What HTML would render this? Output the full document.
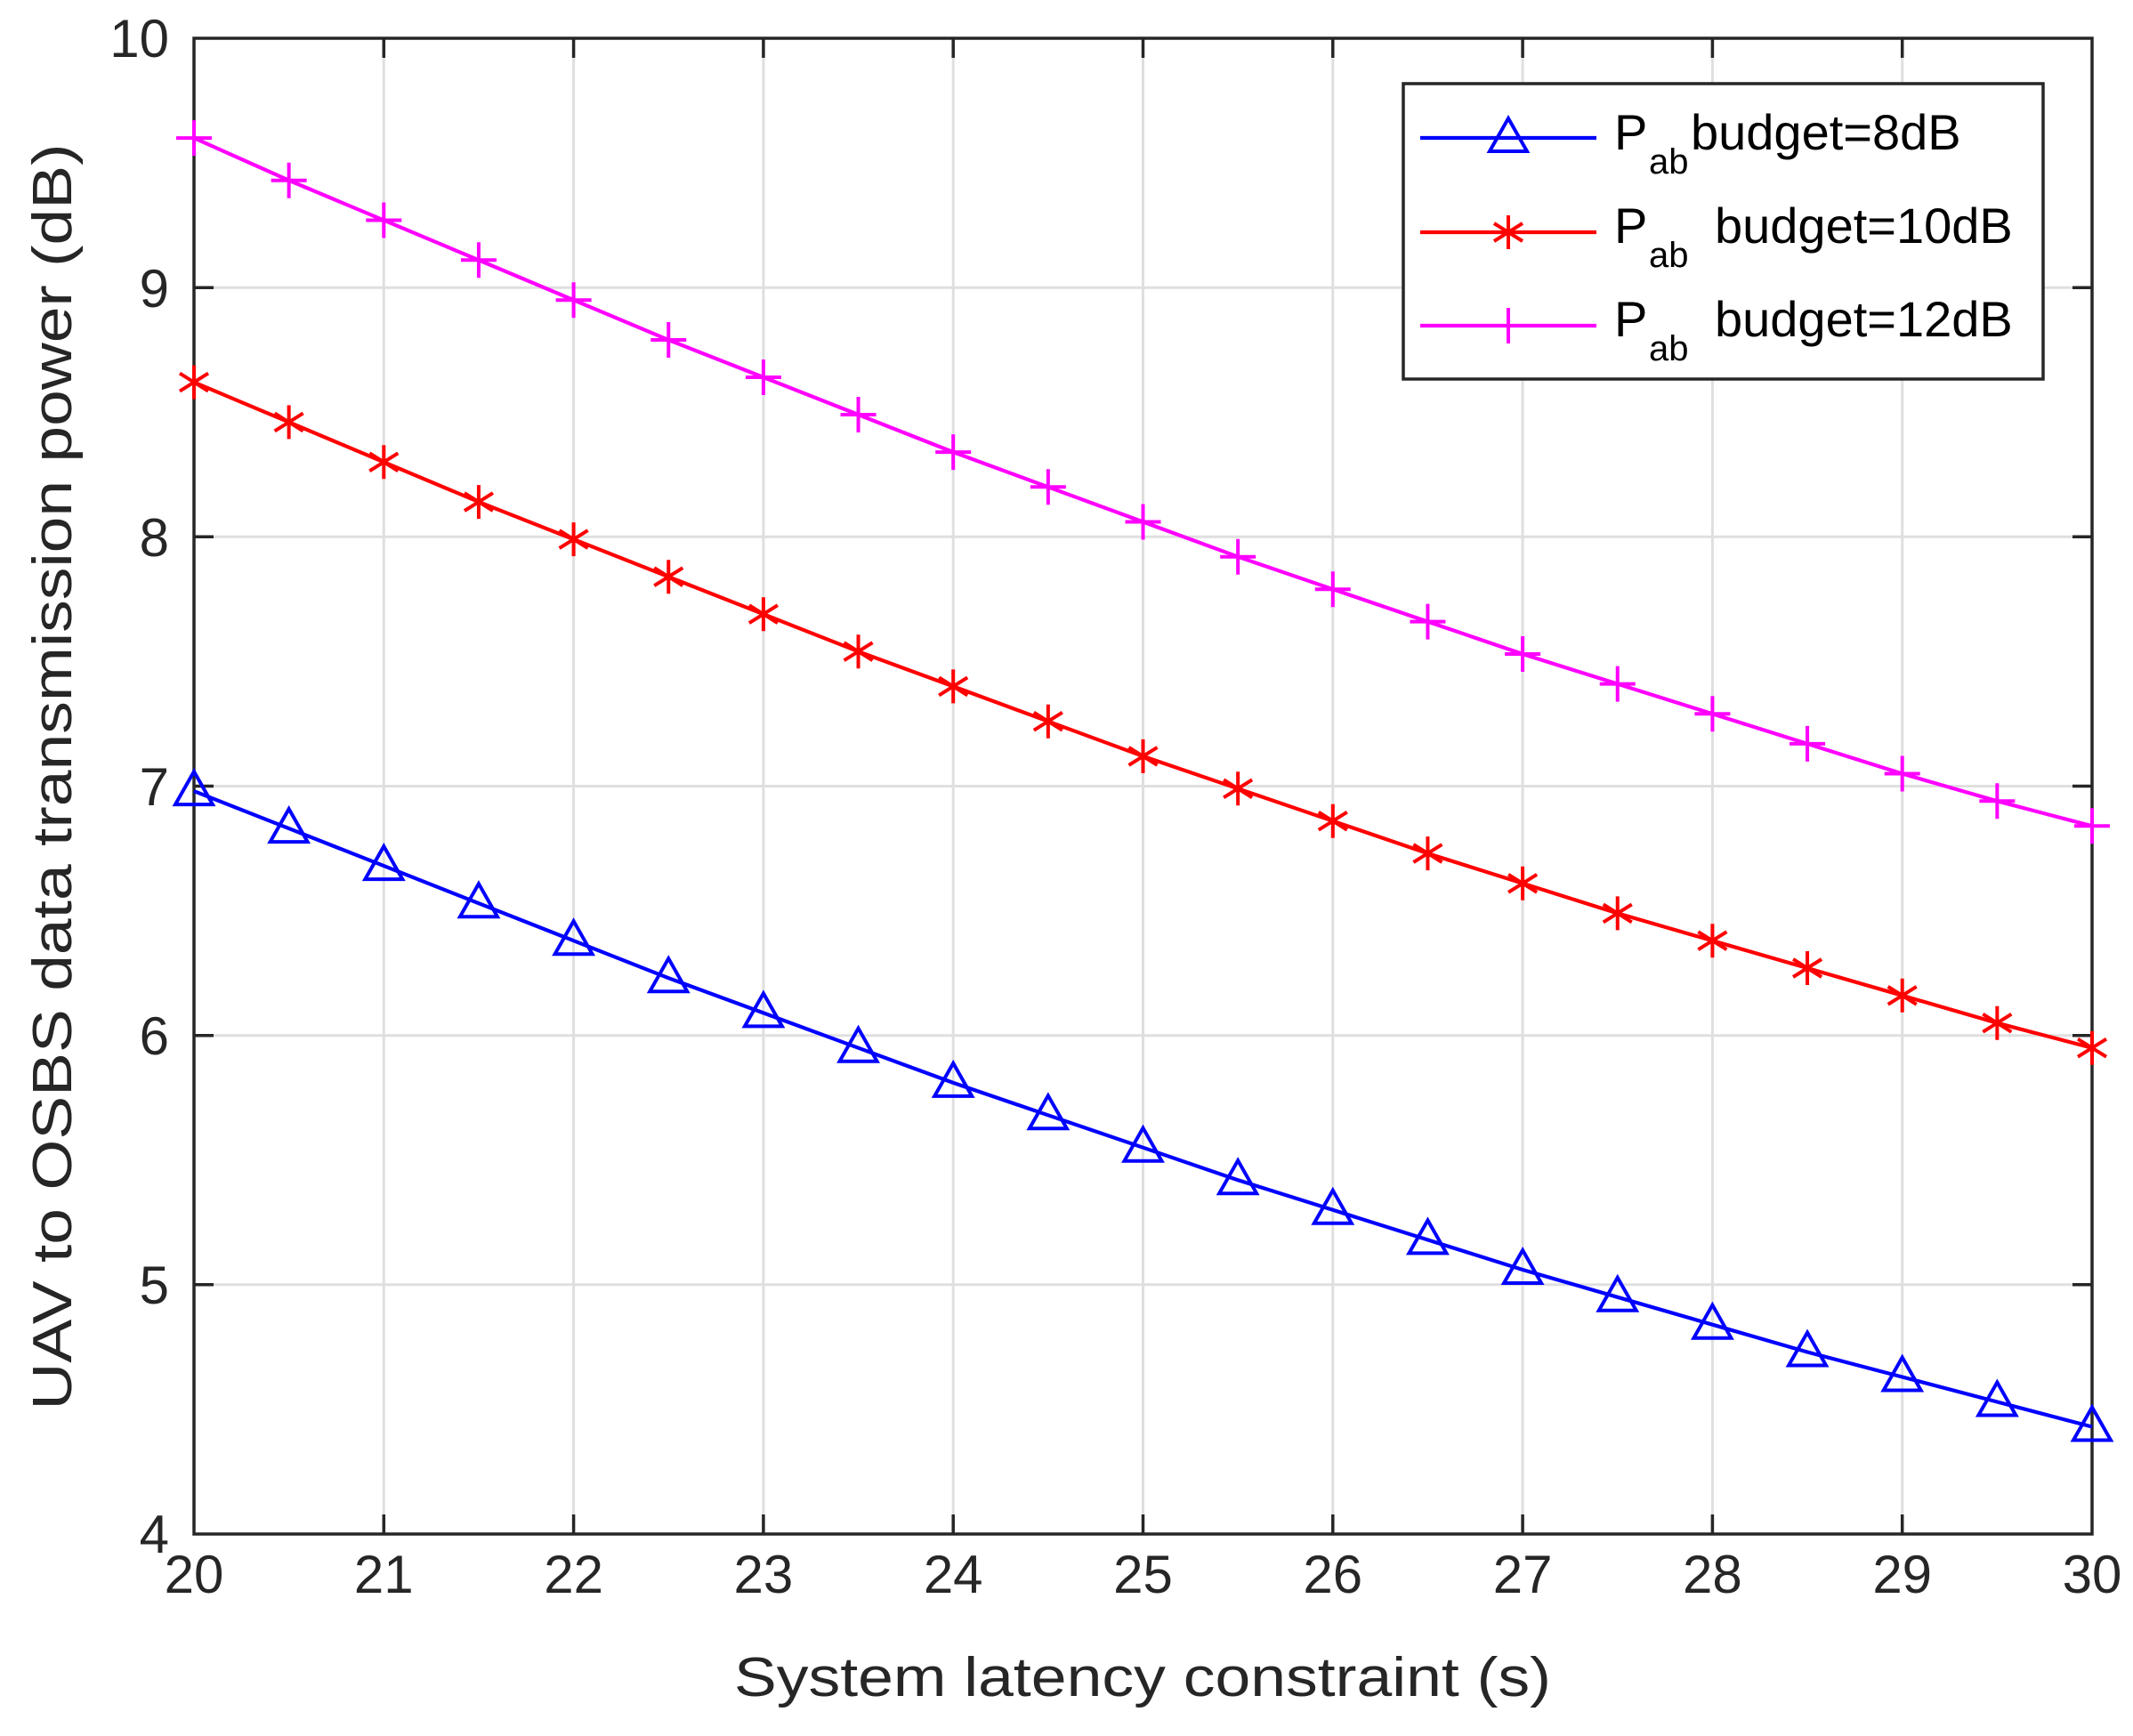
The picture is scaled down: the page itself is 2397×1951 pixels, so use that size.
<!DOCTYPE html>
<html><head><meta charset="utf-8"><style>
html,body{margin:0;padding:0;background:#fff;}
svg{display:block;font-family:"Liberation Sans",Arial,sans-serif;}
</style></head><body>
<svg width="2397" height="1951" viewBox="0 0 2397 1951" xmlns="http://www.w3.org/2000/svg">
<defs>
<g id="tri"><polygon points="0,-22 21,15 -21,15" fill="none" stroke="#0000ff" stroke-width="4"/></g>
<g id="star"><path d="M0,-19V19M-16,-10L16,10M-16,10L16,-10" stroke="#ff0000" stroke-width="4" fill="none"/></g>
<g id="plus"><path d="M0,-20V20M-20,0H20" stroke="#ff00ff" stroke-width="4" fill="none"/></g>
</defs>
<rect width="2397" height="1951" fill="#fff"/>
<g stroke="#dfdfdf" stroke-width="3">
<path d="M431.3,43V1724M644.6,43V1724M857.9,43V1724M1071.2,43V1724M1284.5,43V1724M1497.8,43V1724M1711.1,43V1724M1924.4,43V1724M2137.7,43V1724"/>
<path d="M218,1443.8H2351M218,1163.7H2351M218,883.5H2351M218,603.3H2351M218,323.2H2351"/>
</g>
<g stroke="#262626" stroke-width="3.5" fill="none">
<rect x="218" y="43" width="2133" height="1681"/>
<path d="M431.3,43v22M644.6,43v22M857.9,43v22M1071.2,43v22M1284.5,43v22M1497.8,43v22M1711.1,43v22M1924.4,43v22M2137.7,43v22"/>
<path d="M431.3,1724v-22M644.6,1724v-22M857.9,1724v-22M1071.2,1724v-22M1284.5,1724v-22M1497.8,1724v-22M1711.1,1724v-22M1924.4,1724v-22M2137.7,1724v-22"/>
<path d="M218,1443.8h22M218,1163.7h22M218,883.5h22M218,603.3h22M218,323.2h22"/>
<path d="M2351,1443.8h-22M2351,1163.7h-22M2351,883.5h-22M2351,603.3h-22M2351,323.2h-22"/>
</g>
<g fill="#262626" font-size="60" text-anchor="end">
<text x="190" y="1745">4</text><text x="190" y="1465">5</text><text x="190" y="1185">6</text>
<text x="190" y="905">7</text><text x="190" y="625">8</text><text x="190" y="345">9</text><text x="190" y="64">10</text>
</g>
<g fill="#262626" font-size="60" text-anchor="middle">
<text x="218" y="1790">20</text><text x="431.3" y="1790">21</text><text x="644.6" y="1790">22</text>
<text x="857.9" y="1790">23</text><text x="1071.2" y="1790">24</text><text x="1284.5" y="1790">25</text>
<text x="1497.8" y="1790">26</text><text x="1711.1" y="1790">27</text><text x="1924.4" y="1790">28</text>
<text x="2137.7" y="1790">29</text><text x="2351" y="1790">30</text>
<text x="1284" y="1906" font-size="62" textLength="918" lengthAdjust="spacingAndGlyphs">System latency constraint (s)</text>
<text transform="translate(80,873) rotate(-90)" font-size="62" textLength="1423" lengthAdjust="spacingAndGlyphs">UAV to OSBS data transmission power (dB)</text>
</g>
<polyline fill="none" stroke="#ff00ff" stroke-width="4.2" points="218,155.1 324.65,202.7 431.3,247.5 537.95,292.3 644.6,337.2 751.25,382 857.9,424 964.55,466 1071.2,508.1 1177.85,547.3 1284.5,586.5 1391.15,625.7 1497.8,662.2 1604.45,698.6 1711.1,735 1817.75,768.6 1924.4,802.2 2031.05,835.9 2137.7,869.5 2244.35,900.3 2351,928.3"/>
<polyline fill="none" stroke="#ff0000" stroke-width="4.2" points="218,429.6 324.65,474.4 431.3,519.3 537.95,564.1 644.6,606.1 751.25,648.2 857.9,690.2 964.55,732.2 1071.2,771.4 1177.85,810.7 1284.5,849.9 1391.15,886.3 1497.8,922.7 1604.45,959.1 1711.1,992.8 1817.75,1026.4 1924.4,1057.2 2031.05,1088 2137.7,1118.8 2244.35,1149.7 2351,1177.7"/>
<polyline fill="none" stroke="#0000ff" stroke-width="4.2" points="218,889.1 324.65,931.1 431.3,973.1 537.95,1015.2 644.6,1057.2 751.25,1099.2 857.9,1138.4 964.55,1177.7 1071.2,1216.9 1177.85,1253.3 1284.5,1289.7 1391.15,1326.2 1497.8,1359.8 1604.45,1393.4 1711.1,1427 1817.75,1457.8 1924.4,1488.7 2031.05,1519.5 2137.7,1547.5 2244.35,1575.5 2351,1603.5"/>
<g>
<use href="#plus" x="218" y="155.1"/><use href="#plus" x="324.65" y="202.7"/><use href="#plus" x="431.3" y="247.5"/><use href="#plus" x="537.95" y="292.3"/><use href="#plus" x="644.6" y="337.2"/><use href="#plus" x="751.25" y="382"/><use href="#plus" x="857.9" y="424"/><use href="#plus" x="964.55" y="466"/><use href="#plus" x="1071.2" y="508.1"/><use href="#plus" x="1177.85" y="547.3"/><use href="#plus" x="1284.5" y="586.5"/><use href="#plus" x="1391.15" y="625.7"/><use href="#plus" x="1497.8" y="662.2"/><use href="#plus" x="1604.45" y="698.6"/><use href="#plus" x="1711.1" y="735"/><use href="#plus" x="1817.75" y="768.6"/><use href="#plus" x="1924.4" y="802.2"/><use href="#plus" x="2031.05" y="835.9"/><use href="#plus" x="2137.7" y="869.5"/><use href="#plus" x="2244.35" y="900.3"/><use href="#plus" x="2351" y="928.3"/>
<use href="#star" x="218" y="429.6"/><use href="#star" x="324.65" y="474.4"/><use href="#star" x="431.3" y="519.3"/><use href="#star" x="537.95" y="564.1"/><use href="#star" x="644.6" y="606.1"/><use href="#star" x="751.25" y="648.2"/><use href="#star" x="857.9" y="690.2"/><use href="#star" x="964.55" y="732.2"/><use href="#star" x="1071.2" y="771.4"/><use href="#star" x="1177.85" y="810.7"/><use href="#star" x="1284.5" y="849.9"/><use href="#star" x="1391.15" y="886.3"/><use href="#star" x="1497.8" y="922.7"/><use href="#star" x="1604.45" y="959.1"/><use href="#star" x="1711.1" y="992.8"/><use href="#star" x="1817.75" y="1026.4"/><use href="#star" x="1924.4" y="1057.2"/><use href="#star" x="2031.05" y="1088"/><use href="#star" x="2137.7" y="1118.8"/><use href="#star" x="2244.35" y="1149.7"/><use href="#star" x="2351" y="1177.7"/>
<use href="#tri" x="218" y="889.1"/><use href="#tri" x="324.65" y="931.1"/><use href="#tri" x="431.3" y="973.1"/><use href="#tri" x="537.95" y="1015.2"/><use href="#tri" x="644.6" y="1057.2"/><use href="#tri" x="751.25" y="1099.2"/><use href="#tri" x="857.9" y="1138.4"/><use href="#tri" x="964.55" y="1177.7"/><use href="#tri" x="1071.2" y="1216.9"/><use href="#tri" x="1177.85" y="1253.3"/><use href="#tri" x="1284.5" y="1289.7"/><use href="#tri" x="1391.15" y="1326.2"/><use href="#tri" x="1497.8" y="1359.8"/><use href="#tri" x="1604.45" y="1393.4"/><use href="#tri" x="1711.1" y="1427"/><use href="#tri" x="1817.75" y="1457.8"/><use href="#tri" x="1924.4" y="1488.7"/><use href="#tri" x="2031.05" y="1519.5"/><use href="#tri" x="2137.7" y="1547.5"/><use href="#tri" x="2244.35" y="1575.5"/><use href="#tri" x="2351" y="1603.5"/>
</g>
<rect x="1577" y="94" width="719" height="332" fill="#fff" stroke="#262626" stroke-width="3.5"/>
<path d="M1596,155H1794" stroke="#0000ff" stroke-width="4.2"/><use href="#tri" x="1695" y="155"/>
<path d="M1596,261H1794" stroke="#ff0000" stroke-width="4.2"/><use href="#star" x="1695" y="261"/>
<path d="M1596,366H1794" stroke="#ff00ff" stroke-width="4.2"/><use href="#plus" x="1695" y="366"/>
<g fill="#000" font-size="56">
<text x="1814" y="168">P</text><text x="1853" y="195" font-size="40">ab</text><text x="1900" y="168">budget=8dB</text>
<text x="1814" y="273">P</text><text x="1853" y="300" font-size="40">ab</text><text x="1927" y="273">budget=10dB</text>
<text x="1814" y="378">P</text><text x="1853" y="405" font-size="40">ab</text><text x="1927" y="378">budget=12dB</text>
</g>
</svg>
</body></html>
